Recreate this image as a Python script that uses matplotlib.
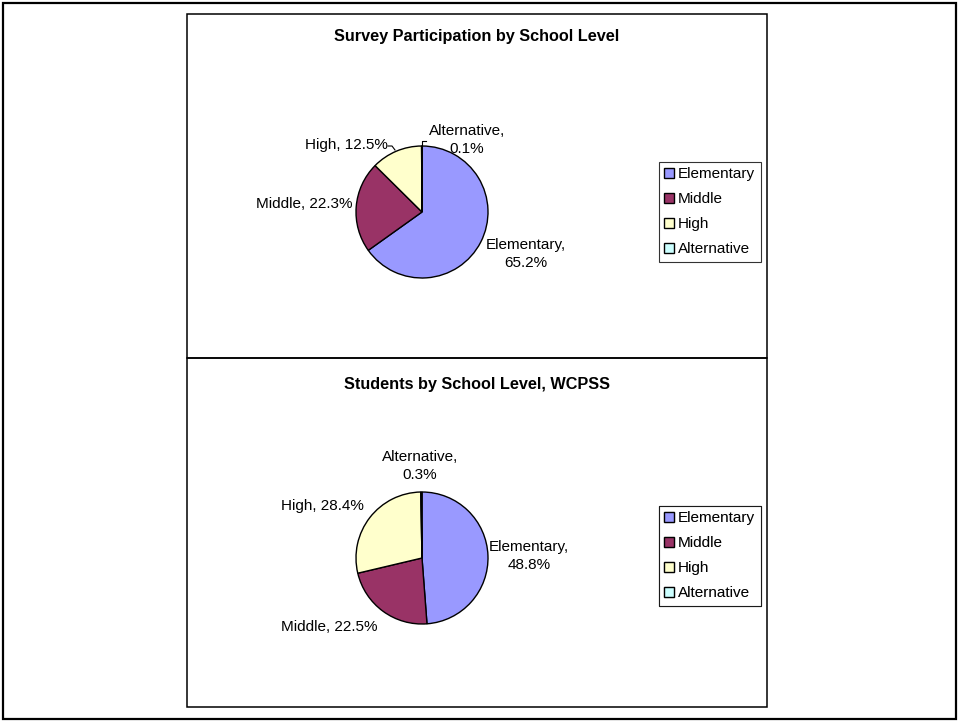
import numpy as np
import matplotlib
matplotlib.use("Agg")
import matplotlib.pyplot as plt
from matplotlib.patches import Rectangle

plt.rcParams["font.family"] = ["Liberation Sans", "DejaVu Sans"]

W, H = 959, 721
CATS = ["Elementary", "Middle", "High", "Alternative"]
COLORS = ["#9999FF", "#993366", "#FFFFCC", "#CCFFFF"]
SURVEY = [65.2, 22.3, 12.5, 0.1]
STUDENTS = [48.8, 22.5, 28.4, 0.3]
TITLES = ["Survey Participation by School Level", "Students by School Level, WCPSS"]

fig = plt.figure(figsize=(W / 100, H / 100), dpi=100)
ax = fig.add_axes([0, 0, 1, 1])
ax.set_xlim(0, W); ax.set_ylim(0, H); ax.axis("off")

def Y(y):  # pixel row -> data y
    return H - y

# outer frame + chart boxes
ax.add_patch(Rectangle((3, Y(719)), 953, 716, fill=False, ec="black", lw=1.6))
ax.add_patch(Rectangle((187, Y(358)), 580, 344, fill=False, ec="black", lw=1.1))
ax.add_patch(Rectangle((187, Y(707)), 580, 349, fill=False, ec="black", lw=1.1))

R = 66
FS = 11
panels = [
    dict(vals=SURVEY, title=TITLES[0], ty=36, cy=212, leg_top=162,
         labels=[("Elementary,\n65.2%", 526, 254, "center"),
                 ("Middle, 22.3%", 353, 204, "right"),
                 ("High, 12.5%", 388, 145, "right"),
                 ("Alternative,\n0.1%", 467, 140, "center")]),
    dict(vals=STUDENTS, title=TITLES[1], ty=385, cy=558, leg_top=506,
         labels=[("Elementary,\n48.8%", 529, 556, "center"),
                 ("Middle, 22.5%", 281, 627, "left"),
                 ("High, 28.4%", 281, 506, "left"),
                 ("Alternative,\n0.3%", 420, 466, "center")]),
]

for p in panels:
    cx = 422
    wedges, _ = ax.pie(p["vals"], colors=COLORS, startangle=90, counterclock=False,
                       center=(cx, Y(p["cy"])), radius=R, frame=True,
                       wedgeprops=dict(edgecolor="black", linewidth=1.0))
    ax.text(477, Y(p["ty"]), p["title"], ha="center", va="center",
            fontsize=11.7, fontweight="bold")
    for txt, x, y, ha in p["labels"]:
        ax.text(x, Y(y), txt, ha=ha, va="center", fontsize=FS,
                multialignment="center", linespacing=1.3)
    leg = ax.legend(wedges, CATS, loc="upper left",
                    bbox_to_anchor=(659 / W, 1 - p["leg_top"] / H),
                    bbox_transform=fig.transFigure, fontsize=FS, frameon=True,
                    fancybox=False, borderpad=0.35, handlelength=0.6,
                    handleheight=0.6, handletextpad=0.3, labelspacing=0.72,
                    borderaxespad=0)
    leg.get_frame().set_edgecolor("black")
    leg.get_frame().set_linewidth(0.8)
    ax.add_artist(leg)

ax.set_xlim(0, W); ax.set_ylim(0, H); ax.set_aspect("auto")

# leader lines for small slices in the top pie
ax.plot([388, 392, 395], [Y(146), Y(146), Y(150)], color="black", lw=0.8)
ax.plot([422, 422, 426], [Y(146), Y(141), Y(141)], color="black", lw=0.8)

fig.savefig("out.png", dpi=100, facecolor="white")
